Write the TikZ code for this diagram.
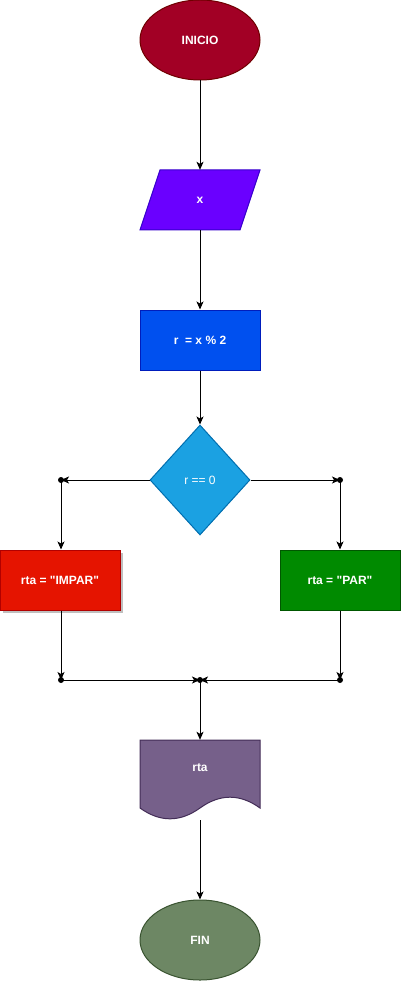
\documentclass[tikz,border=0pt]{standalone}
\usepackage{fontspec}
\defaultfontfeatures{}
\setmainfont[Ligatures=TeXOff]{Liberation Sans}
\usetikzlibrary{shapes.geometric,arrows.meta,shadows}
\definecolor{inifill}{HTML}{A20025}\definecolor{inistroke}{HTML}{6F0000}
\definecolor{xfill}{HTML}{6A00FF}\definecolor{xstroke}{HTML}{3700CC}
\definecolor{rfill}{HTML}{0050EF}\definecolor{rstroke}{HTML}{001DBC}
\definecolor{dfill}{HTML}{1BA1E2}\definecolor{dstroke}{HTML}{006EAF}
\definecolor{impfill}{HTML}{E51400}\definecolor{impstroke}{HTML}{B20000}
\definecolor{parfill}{HTML}{008A00}\definecolor{parstroke}{HTML}{005700}
\definecolor{docfill}{HTML}{76608A}\definecolor{docstroke}{HTML}{432D57}
\definecolor{finfill}{HTML}{6D8764}\definecolor{finstroke}{HTML}{3A5431}
\tikzset{
  lbl/.style={text=white,font=\fontsize{12}{14}\selectfont\bfseries},
  ellbox/.style={ellipse,draw=#1stroke,fill=#1fill,line width=1pt,minimum width=120pt,minimum height=80pt,inner sep=0pt,lbl},
  recbox/.style={rectangle,draw=#1stroke,fill=#1fill,line width=1pt,minimum width=120pt,minimum height=60pt,inner sep=0pt,lbl},
  ghost/.style={rectangle,minimum width=120pt,minimum height=#1,inner sep=0pt},
  conn/.style={draw=black,line width=1pt,-{Stealth[length=8pt,width=7pt,inset=2pt]}},
  dotc/.style={circle,fill=black,inner sep=0pt,minimum size=6pt},
}
\begin{document}
\begin{tikzpicture}[x=1pt,y=-1pt]
\useasboundingbox (0,0) rectangle (401,981);
% shapes
\node[ellbox=ini] (ini) at (200,40) {INICIO};
\fill[xfill,draw=xstroke,line width=1pt] (160,170) -- (260,170) -- (240,230) -- (140,230) -- cycle;
\node[ghost=60pt,lbl] (x) at (200,200) {x};
\node[recbox=r] (r) at (200,340) {r\ \ = x \% 2};
\node[diamond,draw=dstroke,fill=dfill,line width=1pt,minimum width=100pt,minimum height=110pt,aspect=0.91,inner sep=0pt,text=white,font=\fontsize{12}{14}\selectfont] (d) at (200,480) {r == 0};
\node[recbox=imp,drop shadow={shadow xshift=3pt,shadow yshift=-3pt,fill=black!25,opacity=1}] (imp) at (60,580) {rta = "IMPAR"};
\node[recbox=par] (par) at (340,580) {rta = "PAR"};
\fill[docfill,draw=docstroke,line width=1pt] (140,740) -- (260,740) -- (260,808)
  .. controls (240,793.6) and (220,793.6) .. (200,808)
  .. controls (180,822.4) and (160,822.4) .. (140,808) -- cycle;
\node[ghost=80pt] (doc) at (200,780) {};
\node[lbl] (doct) at (200,768) {rta};
\node[ellbox=fin] (fin) at (200,940) {FIN};
% junction dots
\node[dotc] (dl) at (61,480) {};
\node[dotc] (dr) at (340,480) {};
\node[dotc] (bl) at (61,680) {};
\node[dotc] (br) at (340,680) {};
\node[dotc] (bc) at (200,680) {};
% connectors
\draw[conn] (ini.south) -- (x.north);
\draw[conn] (x.south) -- (r.north);
\draw[conn] (r.south) -- (d.north);
\draw[conn] (d.west) -- (dl.center);
\draw[conn] (d.east) -- (dr.center);
\draw[conn] (dl.center) -- (dl.center |- imp.north);
\draw[conn] (dr.center) -- (par.north);
\draw[conn] (imp.south -| bl.center) -- (bl.center);
\draw[conn] (par.south) -- (br.center);
\draw[conn] (bl.center) -- (bc.center);
\draw[conn] (br.center) -- (bc.center);
\draw[conn] (bc.center) -- (doc.north);
\draw[conn] (doc.south) -- (fin.north);
\end{tikzpicture}
\end{document}
